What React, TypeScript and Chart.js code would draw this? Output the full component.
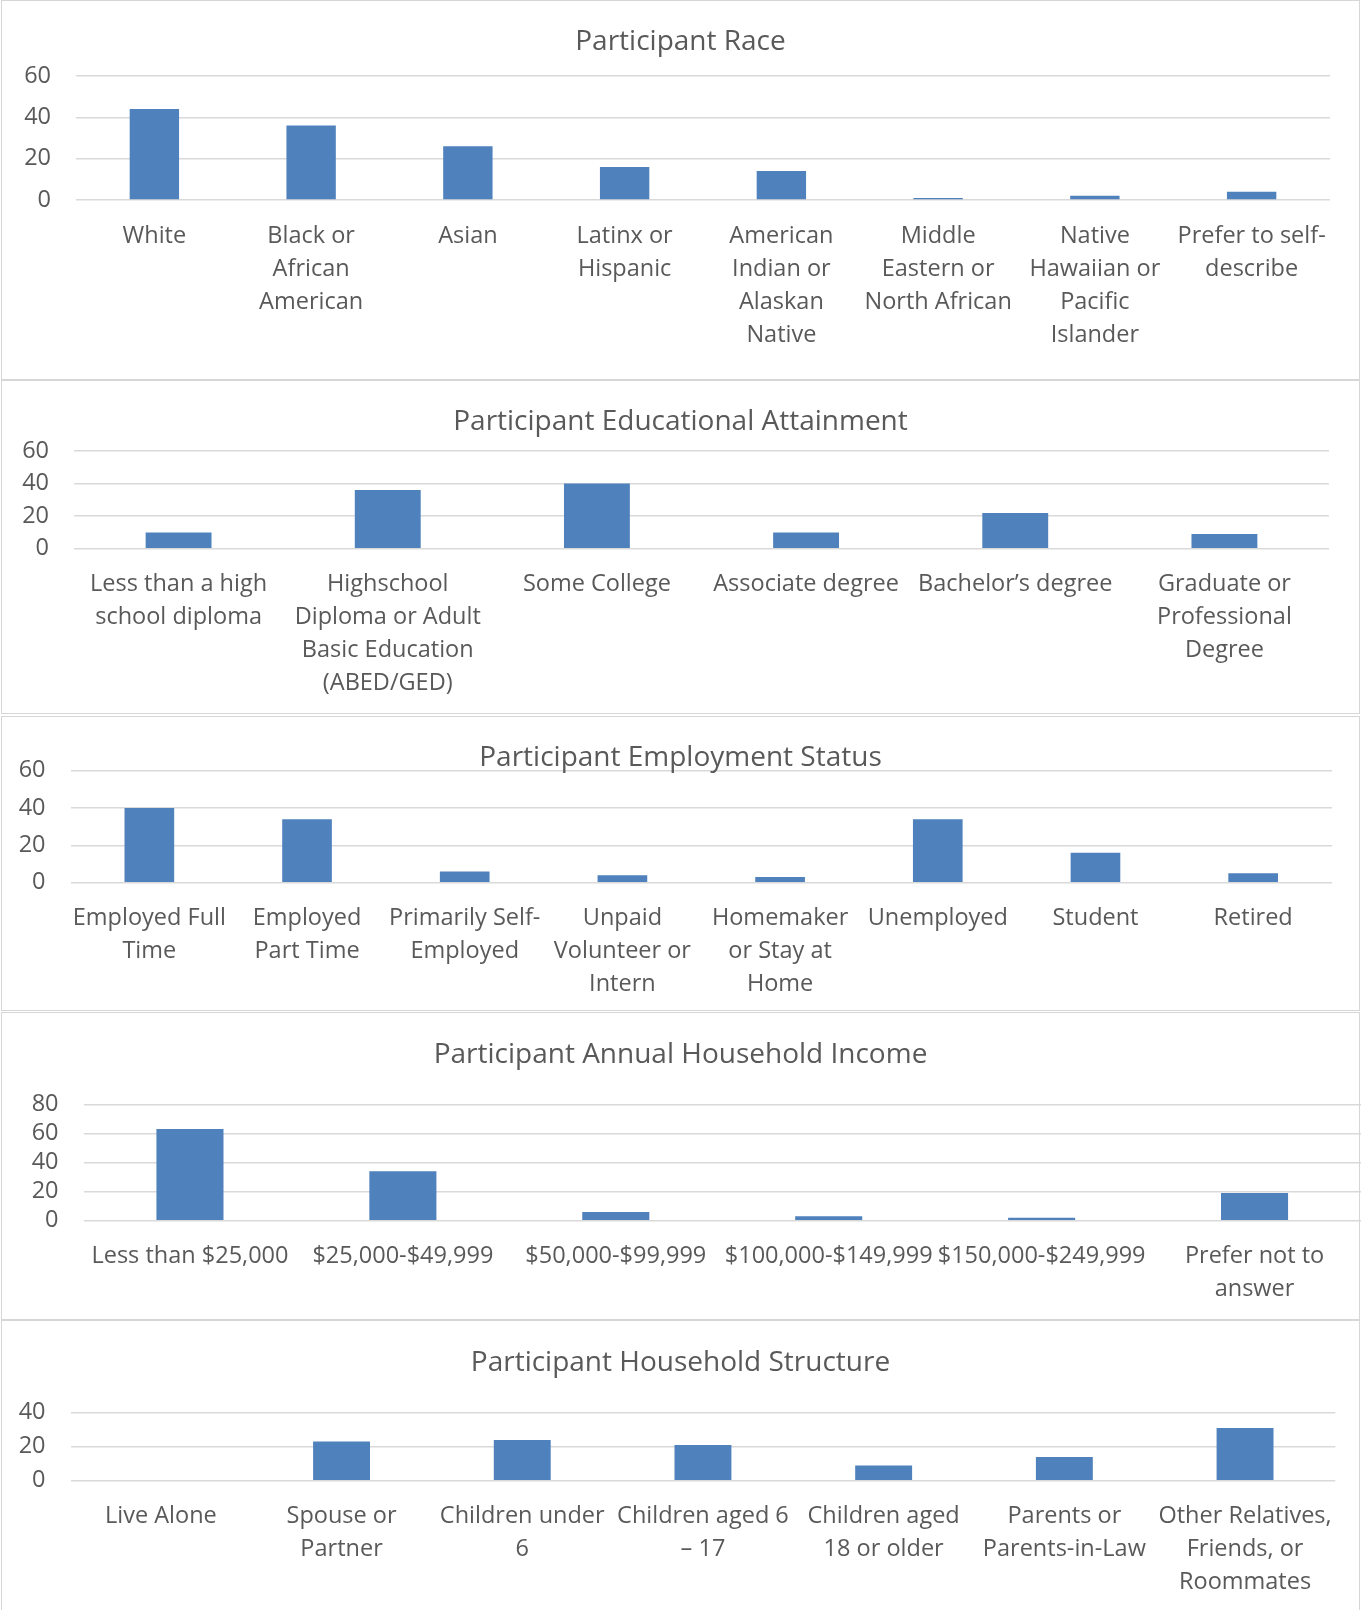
import React, { useEffect, useRef } from "react";
import { Chart, registerables } from "chart.js";

Chart.register(...registerables);

// ---------------- data ----------------
const raceTitle = "Participant Race";
const raceLabels = [
  "White",
  ["Black or", "African", "American"],
  "Asian",
  ["Latinx or", "Hispanic"],
  ["American", "Indian or", "Alaskan", "Native"],
  ["Middle", "Eastern or", "North African"],
  ["Native", "Hawaiian or", "Pacific", "Islander"],
  ["Prefer to self-", "describe"],
];
const raceValues = [44, 36, 26, 16, 14, 1, 2, 4];
const raceMax = 60;

const eduTitle = "Participant Educational Attainment";
const eduLabels = [
  ["Less than a high", "school diploma"],
  ["Highschool", "Diploma or Adult", "Basic Education", "(ABED/GED)"],
  "Some College",
  "Associate degree",
  "Bachelor\u2019s degree",
  ["Graduate or", "Professional", "Degree"],
];
const eduValues = [10, 36, 40, 10, 22, 9];
const eduMax = 60;

const empTitle = "Participant Employment Status";
const empLabels = [
  ["Employed Full", "Time"],
  ["Employed", "Part Time"],
  ["Primarily Self-", "Employed"],
  ["Unpaid", "Volunteer or", "Intern"],
  ["Homemaker", "or Stay at", "Home"],
  "Unemployed",
  "Student",
  "Retired",
];
const empValues = [40, 34, 6, 4, 3, 34, 16, 5];
const empMax = 60;

const incomeTitle = "Participant Annual Household Income";
const incomeLabels = [
  "Less than $25,000",
  "$25,000-$49,999",
  "$50,000-$99,999",
  "$100,000-$149,999",
  "$150,000-$249,999",
  ["Prefer not to", "answer"],
];
const incomeValues = [63, 34, 6, 3, 2, 19];
const incomeMax = 80;

const houseTitle = "Participant Household Structure";
const houseLabels = [
  "Live Alone",
  ["Spouse or", "Partner"],
  ["Children under", "6"],
  ["Children aged 6", "\u2013 17"],
  ["Children aged", "18 or older"],
  ["Parents or", "Parents-in-Law"],
  ["Other Relatives,", "Friends, or", "Roommates"],
];
const houseValues = [0, 23, 24, 21, 9, 14, 31];
const houseMax = 40;

const yStep = 20;

// ---------------- styling / layout ----------------
const PAGE_W = 1361;
const PAGE_H = 1610;
const BAR = "#4f81bd";
const TEXT = "#595959";
const GRID = "#d9d9d9";
const BORDER = "#d6d6d6";
const FONT = "'Open Sans', 'Noto Sans', sans-serif";
const TITLE_SIZE = 28;
const TITLE_LH = 0.9;
const LABEL_SIZE = 23.5;
const LABEL_LH = 33;

type PanelSpec = {
  title: string;
  labels: (string | string[])[];
  values: number[];
  yMax: number;
  top: number;
  height: number;
  titleMid: number;
  plotTop: number;
  plotBottom: number;
  plotLeft: number;
  plotRight: number;
};

const panels: PanelSpec[] = [
  { title: raceTitle, labels: raceLabels, values: raceValues, yMax: raceMax,
    top: 0, height: 380, titleMid: 42, plotTop: 76, plotBottom: 200, plotLeft: 76, plotRight: 1330 },
  { title: eduTitle, labels: eduLabels, values: eduValues, yMax: eduMax,
    top: 380, height: 334, titleMid: 41.8, plotTop: 71, plotBottom: 168.7, plotLeft: 74, plotRight: 1329 },
  { title: empTitle, labels: empLabels, values: empValues, yMax: empMax,
    top: 716, height: 295, titleMid: 41.8, plotTop: 54.7, plotBottom: 166.7, plotLeft: 70.5, plotRight: 1332 },
  { title: incomeTitle, labels: incomeLabels, values: incomeValues, yMax: incomeMax,
    top: 1012, height: 308, titleMid: 42.8, plotTop: 92.3, plotBottom: 208.7, plotLeft: 83.5, plotRight: 1361 },
  { title: houseTitle, labels: houseLabels, values: houseValues, yMax: houseMax,
    top: 1320, height: 300, titleMid: 42.7, plotTop: 92.7, plotBottom: 160.7, plotLeft: 70.5, plotRight: 1335.4 },
];

function ChartPanel({ p }: { p: PanelSpec }) {
  const ref = useRef<HTMLCanvasElement | null>(null);

  useEffect(() => {
    if (!ref.current) return;
    const rightW = PAGE_W - p.plotRight;
    const half = (TITLE_SIZE * TITLE_LH) / 2;
    const chart = new Chart(ref.current, {
      type: "bar",
      data: {
        labels: p.labels as any,
        datasets: [
          {
            data: p.values,
            backgroundColor: BAR,
            borderWidth: 0,
            barPercentage: 0.315,
            categoryPercentage: 1,
            yAxisID: "y",
          },
        ],
      },
      options: {
        animation: false,
        responsive: false,
        maintainAspectRatio: false,
        devicePixelRatio: 1,
        layout: { padding: 0 },
        plugins: {
          legend: { display: false },
          tooltip: { enabled: false },
          title: {
            display: true,
            text: p.title,
            color: TEXT,
            font: { family: FONT, size: TITLE_SIZE, weight: "normal", lineHeight: TITLE_LH },
            padding: {
              top: p.titleMid - half,
              bottom: p.plotTop - p.titleMid - half,
            },
          },
        },
        scales: {
          x: {
            grid: { display: false, drawTicks: false },
            border: { display: false },
            ticks: {
              color: TEXT,
              font: { family: FONT, size: LABEL_SIZE, lineHeight: LABEL_LH / LABEL_SIZE },
              padding: 19.5,
              maxRotation: 0,
              minRotation: 0,
              autoSkip: false,
            },
            afterFit: (s: any) => {
              s.height = p.height - p.plotBottom;
            },
          },
          y: {
            position: "left",
            min: 0,
            max: p.yMax,
            ticks: {
              stepSize: yStep,
              color: TEXT,
              font: { family: FONT, size: LABEL_SIZE },
              padding: 25,
              autoSkip: false,
            },
            grid: { color: GRID, lineWidth: 1.5, drawTicks: false },
            border: { display: false },
            afterFit: (s: any) => {
              s.width = p.plotLeft;
            },
          },
          yRight: {
            type: "linear",
            position: "right",
            display: true,
            grid: { display: false, drawTicks: false },
            border: { display: false },
            ticks: { display: false },
            afterFit: (s: any) => {
              s.width = rightW;
            },
          },
        },
      },
    });
    return () => chart.destroy();
  }, [p]);

  return (
    <>
      <canvas
        ref={ref}
        width={PAGE_W}
        height={p.height}
        style={{ position: "absolute", left: 0, top: p.top, width: PAGE_W, height: p.height }}
      />
      <div
        style={{
          position: "absolute",
          left: 1,
          top: p.top,
          width: 1359,
          height: p.height,
          border: `1px solid ${BORDER}`,
          boxSizing: "border-box",
          pointerEvents: "none",
        }}
      />
    </>
  );
}

export default function App() {
  return (
    <div
      style={{
        position: "absolute",
        left: 0,
        top: 0,
        width: PAGE_W,
        height: PAGE_H,
        overflow: "hidden",
        background: "#ffffff",
      }}
    >
      {panels.map((p, i) => (
        <ChartPanel key={i} p={p} />
      ))}
    </div>
  );
}
